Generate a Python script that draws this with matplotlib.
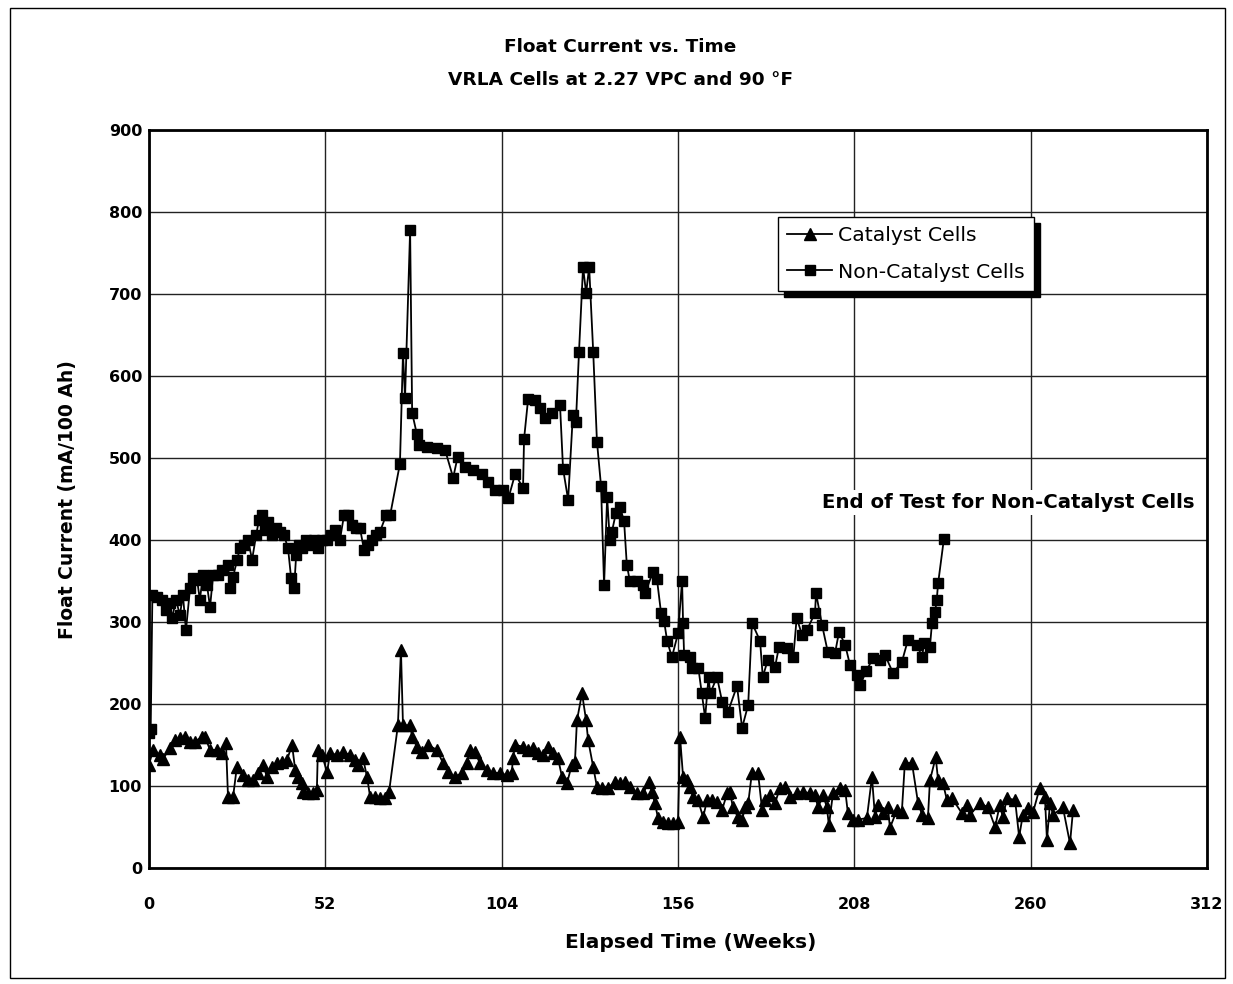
import matplotlib
matplotlib.use("Agg")
import matplotlib.pyplot as plt
from matplotlib.patches import Rectangle

# ---------------- data ----------------
cat_weeks = [0, 1.2, 3.2, 4.1, 6.2, 7.7, 9.1, 10.6, 12.1, 13.6, 15.6, 16.5, 18, 20, 21.5, 22.7, 23.3, 24.8,
             25.9, 27.7, 29.2, 30.7, 32.1, 33.6, 34.8, 36.3, 37.7, 39.2, 40.7, 42.2, 43.1, 43.9, 45.1, 45.4,
             46.9, 48.4, 49.5, 49.8, 51, 52.5, 53.4, 55.4, 57.2, 59.3, 60.7, 61.6, 63.1, 64.3, 65.2, 66.6,
             68.1, 69.6, 70.8, 73.4, 74.3, 74.9, 77, 77.6, 79, 80.5, 82.3, 84.9, 86.7, 88.2, 90.2, 92.3,
             93.8, 94.7, 96.1, 97.6, 99.7, 101.4, 103.5, 105.6, 107, 107.3, 108, 110.3, 111.8, 113.2, 114.7,
             116.2, 117.7, 119.1, 120.6, 121.8, 123.3, 124.7, 125.6, 126.2, 127.7, 128.9, 129.5, 131, 132.1,
             133.6, 135.4, 137.4, 138.9, 140.4, 141.8, 143.9, 145.7, 147.4, 148.3, 149.2, 150.1, 151.6, 153,
             154.5, 156, 156.6, 157.5, 158.7, 159.5, 160.4, 161.9, 163.4, 164.6, 166, 167.5, 169, 170.5,
             171.3, 172.2, 173.7, 174.9, 175.8, 176.7, 177.8, 179.6, 180.8, 181.7, 183.1, 184.6, 186.1,
             187.6, 189, 191, 192.9, 194.9, 196.4, 197.3, 198.8, 199.9, 200.5, 201.7, 203.8, 205.3, 206.1,
             207.6, 209.1, 211.7, 213.2, 214.1, 215, 216.5, 217.9, 218.5, 220.6, 222, 222.9, 225, 226.8,
             228, 229.7, 230.3, 232, 232.7, 234.1, 235.3, 236.8, 239.7, 241.2, 242.1, 245.1, 247.4, 249.5,
             250.9, 251.8, 253, 255.4, 256.6, 257.7, 259.2, 260.7, 262.7, 264.2, 264.8, 265.7, 266.6, 269.5,
             271.6, 272.5]
cat_values = [126, 144, 138, 133, 146, 156, 158, 160, 154, 154, 160, 160, 144, 144, 140, 152, 87, 87,
              123, 113, 107, 107, 116, 126, 111, 123, 128, 129, 132, 150, 120, 111, 104, 93,
              91, 91, 95, 144, 138, 117, 140, 138, 141, 138, 132, 126, 134, 111, 87, 87,
              85, 85, 93, 174, 266, 174, 174, 160, 148, 141, 150, 144, 128, 117, 111, 116,
              128, 144, 141, 128, 120, 116, 116, 113, 116, 134, 150, 148, 144, 146, 140,
              138, 148, 140, 134, 111, 104, 126, 129, 180, 213, 180, 156, 123, 99,
              98, 98, 105, 104, 105, 99, 91, 91, 105, 93, 79, 61, 56, 55,
              55, 56, 160, 111, 107, 99, 87, 83, 62, 83, 83, 80, 71, 91,
              93, 74, 62, 59, 74, 79, 116, 116, 71, 83, 89, 79, 98,
              99, 87, 91, 93, 91, 89, 74, 89, 74, 52, 91, 98, 95, 67,
              59, 59, 61, 111, 62, 77, 67, 74, 49, 71, 68, 128, 128, 79,
              65, 61, 107, 135, 107, 104, 83, 85, 67, 77, 65, 79, 74, 50,
              77, 62, 85, 83, 38, 65, 73, 68, 98, 87, 34, 79, 65, 74,
              30, 71]

noncat_weeks = [0, 0.5, 1.0, 2.4, 3.8, 5.0, 6.2, 6.8, 8.0, 9.1, 10.0, 10.9, 12.1, 13.0, 14.2, 15.0, 15.9,
                17.1, 18.0, 18.9, 20.3, 21.5, 23.3, 23.9, 24.8, 26.0, 26.8, 28.0, 29.2, 30.4, 31.6, 32.4,
                33.3, 34.2, 35.1, 36.3, 37.5, 38.6, 39.8, 41.0, 41.9, 42.8, 43.4, 44.2, 45.1, 46.3, 47.5,
                48.7, 49.8, 51.0, 52.5, 53.7, 54.9, 56.3, 57.5, 58.7, 59.9, 61.0, 62.2, 63.4, 64.6, 65.8,
                66.9, 68.1, 69.9, 71.1, 74.0, 74.9, 75.5, 77.0, 77.6, 79.0, 79.6, 82.0, 85.0, 87.3, 89.7,
                91.0, 93.2, 95.5, 98.2, 100, 102, 104.4, 106, 108, 110.3, 110.6, 111.8, 113.8, 115.3,
                116.8, 118.8, 121.2, 122.1, 123.6, 125, 125.9, 126.8, 128, 128.9, 129.8, 131, 132.1,
                133.3, 134.2, 135.1, 135.9, 136.5, 137.7, 138.9, 140.1, 140.9, 141.8, 143.9, 145.7,
                146.3, 148.6, 149.8, 151, 151.9, 152.8, 154.2, 156, 157.2, 157.5, 157.8, 159.5, 160, 162,
                163, 164, 165, 165.5, 167.5, 169, 170.7, 173.4, 174.9, 176.7, 177.8, 180.2, 181, 182.5,
                184.6, 185.8, 188, 190, 191, 192.6, 194, 196.4, 196.7, 198.5, 200.2, 202.3, 203.5, 205.3,
                206.7, 208.8, 209.7, 211.5, 213.5, 215.6, 217, 219.4, 222, 223.8, 226.5, 228, 228.5,
                230.3, 230.9, 231.8, 232.3, 232.7, 234.4]
noncat_values = [165, 170, 333, 330, 327, 315, 323, 305, 327, 308, 333, 290, 341, 354, 351, 327, 357,
                 345, 318, 357, 357, 363, 370, 341, 355, 376, 390, 394, 400, 376, 406, 424,
                 430, 412, 422, 406, 415, 410, 406, 390, 354, 341, 382, 394, 390, 400, 394,
                 400, 390, 400, 400, 406, 412, 400, 430, 430, 418, 415, 415, 388, 394, 400,
                 406, 410, 430, 430, 493, 628, 573, 778, 555, 529, 516, 513, 512, 510, 476,
                 501, 489, 485, 481, 471, 461, 461, 451, 481, 463, 523, 572, 571, 561,
                 549, 555, 565, 487, 449, 553, 544, 629, 733, 701, 733, 629, 520,
                 466, 345, 452, 400, 410, 433, 440, 423, 370, 350, 350, 345,
                 335, 361, 352, 311, 301, 277, 257, 286, 350, 299, 260, 257, 244, 244,
                 213, 183, 233, 213, 233, 203, 190, 222, 171, 199, 299, 277, 233, 254,
                 245, 270, 268, 257, 305, 284, 290, 311, 335, 296, 263, 262, 288, 272,
                 248, 235, 223, 240, 256, 254, 260, 238, 251, 278, 272, 257, 274,
                 270, 299, 312, 327, 347, 401]

x_ticks = [0, 52, 104, 156, 208, 260, 312]
y_ticks = [0, 100, 200, 300, 400, 500, 600, 700, 800, 900]

title_text = "Float Current vs. Time\nVRLA Cells at 2.27 VPC and 90 \u00b0F"
xlabel_text = "Elapsed Time (Weeks)"
ylabel_text = "Float Current (mA/100 Ah)"
annot_text = "End of Test for Non-Catalyst Cells"
legend_labels = ["Catalyst Cells", "Non-Catalyst Cells"]

# ---------------- figure ----------------
plt.rcParams['font.family'] = ['DejaVu Sans']
W, H = 1233, 984
fig = plt.figure(figsize=(W / 100, H / 100), dpi=100)
fig.patch.set_facecolor('white')

# outer border of the figure
fig.add_artist(Rectangle((10 / W, 1 - 978 / H), (1225 - 10) / W, (978 - 8) / H,
                         transform=fig.transFigure, fill=False, edgecolor='black', lw=1))

ax = fig.add_axes([149 / W, 1 - 868 / H, (1207 - 149) / W, (868 - 130) / H])
ax.set_xlim(0, 312)
ax.set_ylim(0, 900)
ax.set_xticks(x_ticks)
ax.set_yticks(y_ticks)
ax.grid(True, color='#222222', lw=1.0)
ax.set_axisbelow(True)
for s in ax.spines.values():
    s.set_linewidth(2.0)
ax.tick_params(axis='both', direction='in', length=0, labelsize=11.5)
ax.tick_params(axis='x', pad=21)
ax.tick_params(axis='y', pad=5)
for lab in ax.get_xticklabels() + ax.get_yticklabels():
    lab.set_fontweight('bold')

l1, = ax.plot(cat_weeks, cat_values, color='black', lw=1.3, marker='^', ms=8,
              markerfacecolor='black', markeredgecolor='black', label=legend_labels[0])
l2, = ax.plot(noncat_weeks, noncat_values, color='black', lw=1.3, marker='s', ms=7.8,
              markerfacecolor='black', markeredgecolor='black', label=legend_labels[1])

ax.text(198.5, 446, annot_text, fontsize=14.2, fontweight='bold', va='center', ha='left',
        bbox=dict(facecolor='white', edgecolor='none', pad=2), zorder=5)

leg = ax.legend(handles=[l1, l2], loc='upper left',
                bbox_to_anchor=((778 - 149) / 1058, 1 - (217 - 130) / 738),
                borderaxespad=0, frameon=True, fancybox=False, edgecolor='black', framealpha=1,
                fontsize=14.7, handlelength=2.2, handletextpad=0.3, borderpad=0.45,
                labelspacing=0.85,
                shadow={'ox': 4.3, 'oy': -4.3, 'color': 'black', 'alpha': 1})
leg.get_frame().set_linewidth(1.0)

fig.text(620 / W, 1 - 63.5 / H, title_text, ha='center', va='center', fontsize=13.3,
         fontweight='bold', linespacing=2.05)
fig.text(691 / W, 1 - 942 / H, xlabel_text, ha='center', va='center', fontsize=14.5, fontweight='bold')
fig.text(68 / W, 1 - 500 / H, ylabel_text, ha='center', va='center', fontsize=13.5,
         fontweight='bold', rotation=90)

fig.savefig("out.png", dpi=100)
